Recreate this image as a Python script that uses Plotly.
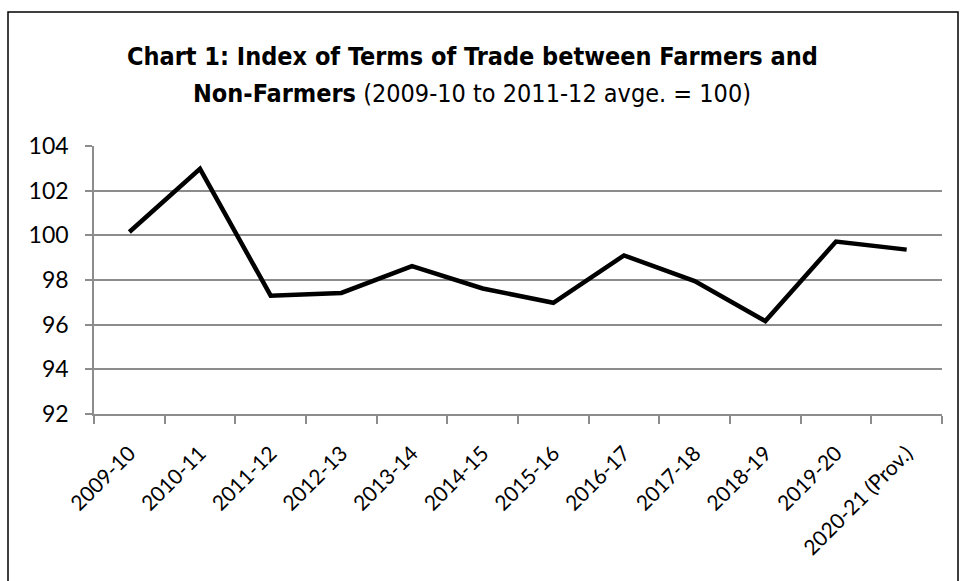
import plotly.graph_objects as go

categories = ["2009-10", "2010-11", "2011-12", "2012-13", "2013-14", "2014-15",
              "2015-16", "2016-17", "2017-18", "2018-19", "2019-20", "2020-21 (Prov.)"]
index_values = [100.15, 102.98, 97.3, 97.42, 98.62, 97.62, 96.98, 99.1, 97.95, 96.16, 99.72, 99.36]
y_ticks = [92, 94, 96, 98, 100, 102, 104]

title_line1 = "<b>Chart 1: Index of Terms of Trade between Farmers and</b>"
title_line2 = "<b>Non-Farmers</b> (2009-10 to 2011-12 avge. = 100)"

fig = go.Figure()
fig.add_trace(go.Scatter(
    x=categories, y=index_values, mode="lines",
    line=dict(color="black", width=4.5), showlegend=False,
))

W, H = 960, 581
PL, PR, PT, PB = 94, 18, 146, 167
PW, PH = W - PL - PR, H - PT - PB
fig.update_layout(
    width=W, height=H,
    margin=dict(l=PL, r=PR, t=PT, b=PB),
    paper_bgcolor="white", plot_bgcolor="white",
    font=dict(family="Lato, sans-serif", color="black"),
    xaxis=dict(type="category", tickangle=-45, tickson="boundaries",
               ticks="outside", ticklen=8, tickcolor="#8c8c8c", tickwidth=1.5,
               showline=True, linecolor="#8c8c8c", linewidth=1.5,
               showgrid=False, tickfont=dict(size=21), range=[-0.5, 11.5],
               ticklabelstandoff=17),
    yaxis=dict(range=[92, 104], tickvals=y_ticks, ticks="outside", ticklen=7,
               tickcolor="#8c8c8c", tickwidth=1.5,
               showline=True, linecolor="#8c8c8c", linewidth=1.5,
               showgrid=True, gridcolor="#8c8c8c", gridwidth=1.5,
               zeroline=False, tickfont=dict(size=23), ticklabelstandoff=12),
)
title_font = dict(size=25, family="DejaVu Sans Condensed, sans-serif", color="black")
for txt, yc in [(title_line1, 57), (title_line2, 93)]:
    fig.add_annotation(text=txt, xref="paper", yref="paper",
                       x=(472 - PL) / PW, y=1 + (PT - yc) / PH,
                       xanchor="center", yanchor="middle", showarrow=False,
                       font=title_font)
fig.add_shape(type="rect", xref="paper", yref="paper",
              x0=-86 / PW, x1=1 + 16 / PW, y0=-0.8, y1=1 + 134 / PH,
              line=dict(color="black", width=1.5), fillcolor="rgba(0,0,0,0)")
fig.write_html("out.html")
